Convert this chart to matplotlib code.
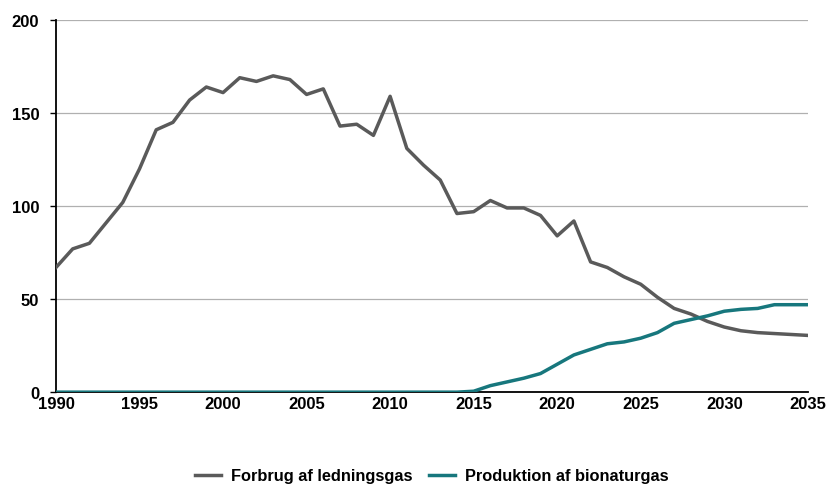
import matplotlib
matplotlib.use("Agg")
import matplotlib.pyplot as plt
from matplotlib import font_manager

names = sorted({f.name for f in font_manager.fontManager.ttflist})
family = 'Liberation Sans Narrow' if 'Liberation Sans Narrow' in names else 'Liberation Sans'
plt.rcParams['font.family'] = [family, 'DejaVu Sans']

years = list(range(1990, 2036))
forbrug = [67, 77, 80, 91, 102, 120, 141, 145, 157, 164,
           161, 169, 167, 170, 168, 160, 163, 143, 144, 138,
           159, 131, 122, 114, 96, 97, 103, 99, 99, 95,
           84, 92, 70, 67, 62, 58, 51, 45, 42, 38,
           35, 33, 32, 31.5, 31, 30.5]
produktion = [0] * 25 + [0.5, 3.5, 5.5, 7.5, 10,
                         15, 20, 23, 26, 27, 29, 32, 37, 39, 41,
                         43.5, 44.5, 45, 47, 47, 47]
labels = ['Forbrug af ledningsgas', 'Produktion af bionaturgas']

fig = plt.figure(figsize=(8.28, 4.89), dpi=100)
ax = fig.add_axes([0.0676, 0.196, 0.908, 0.761])

ax.plot(years, forbrug, color='#5a5a5a', lw=2.5, label=labels[0], zorder=3)
ax.plot(years, produktion, color='#17777d', lw=2.5, label=labels[1], zorder=4)

ax.set_xlim(1990, 2035)
ax.set_ylim(0, 200)
ax.set_xticks(range(1990, 2036, 5))
ax.set_yticks(range(0, 201, 50))
ax.yaxis.grid(True, color='#b0b0b0', lw=0.9)
ax.set_axisbelow(True)
for s in ['top', 'right']:
    ax.spines[s].set_visible(False)
ax.spines['left'].set_linewidth(1.3)
ax.spines['bottom'].set_linewidth(1.3)
ax.tick_params(axis='y', length=4, width=1, labelsize=12, pad=8)
ax.tick_params(axis='x', length=0, labelsize=12, pad=3)
for t in ax.get_xticklabels() + ax.get_yticklabels():
    t.set_fontweight('bold')

ax.legend(loc='center', bbox_to_anchor=(0.5, -0.225), ncol=2,
          frameon=False, handlelength=1.6, handletextpad=0.6,
          columnspacing=1.0, prop={'size': 11.8, 'weight': 'bold'})

fig.savefig('out.png', dpi=100)
